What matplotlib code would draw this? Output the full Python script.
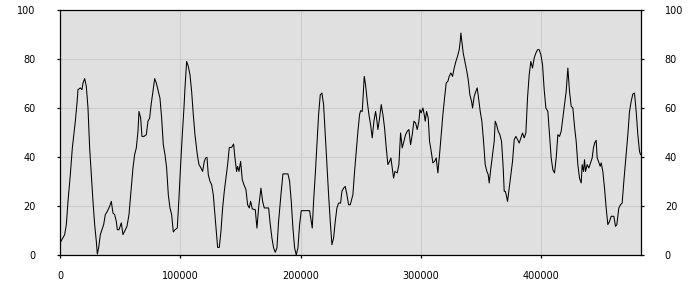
import numpy as np
import matplotlib
matplotlib.use("Agg")
import matplotlib.pyplot as plt

# values
x_vals = [0, 3880, 5260, 6650, 8580, 10250, 11630, 12740, 14130, 14960,
          16890, 18280, 19110, 20500, 21880, 23270, 24650, 26040, 27420, 28810,
          30190, 31020, 32130, 33520, 34900, 36290, 37670, 39330, 41280, 42650,
          44040, 45420, 46810, 47640, 49030, 50970, 52350, 53740, 55680, 57340,
          58730, 60660, 62050, 63430, 64820, 65650, 67040, 68140, 69800, 71740,
          73130, 74510, 75900, 77280, 78670, 80050,
          81710, 83100, 84490, 85870, 87260, 88640, 90030, 91410, 92800, 94180,
          95570, 97500, 98890, 100280, 101660, 103040, 103880, 105260, 106650, 108030,
          109420, 110800, 112190, 114120, 115510, 116890, 118560, 119940, 121050, 122160,
          123260, 124650, 126030, 127420, 128810, 130190, 131020, 132410, 133790, 135180,
          136560, 137950, 139330, 140720, 142650, 144310, 145430, 146810, 147640, 148750,
          150140, 151520, 152900, 154570, 155950, 157340, 158450, 159830,
          162320, 163710, 165090, 167030, 168420, 169800, 173410, 174790, 176170, 177560,
          178940, 180330, 181710, 183650, 185310, 189470, 190850, 192240, 193620, 195010,
          196390, 197780, 199160, 200550, 207470, 208860, 209690, 210800, 212180, 213570,
          214960, 216340, 217730, 219110, 220500, 221880, 223270, 224650, 226030, 227420,
          228800, 230190, 231570, 233240, 234340, 235730, 237110, 238500, 239880, 241260,
          243480, 244870, 246250, 247640, 249020, 249850, 251240, 252070, 252900, 254010,
          255400, 256780, 258170, 259550, 260940, 262320, 263150, 264260, 265650, 267030,
          268420, 269800, 271190, 272570, 273960, 275060, 276170, 277280, 278390, 280320,
          281710, 283100, 284480, 285870, 287250, 288640, 290020, 291410, 292800, 294180,
          295570, 296950, 298340, 299170, 300270, 301650, 302760, 303590, 304700, 306080,
          307190, 308570, 309960, 311340, 312730, 314110, 315500, 316890, 318270, 319660,
          321040, 322430,
          323520, 324900, 326290, 327670, 329080, 330460, 331850, 332680, 333230, 334060,
          335170, 336560, 337940, 339330, 340710, 342100, 342930, 344310, 345700, 346800,
          347910, 349300, 350680, 352070, 353450, 354840, 355950, 356780, 358160, 359550,
          360930, 361760, 362870, 364260, 365640, 367030, 368410, 369250, 370080, 370910,
          372020, 373400, 374790, 376170, 377560, 378940, 380330, 381710, 383090, 384480,
          385860, 387250, 388630, 390020, 391400, 392790, 394170, 395560, 396940, 398330,
          399710, 401100, 402480, 403870,
          405530, 406910, 408300, 409680, 411070, 412450, 413840, 415220, 416610, 417990,
          419380, 420760, 422150, 423530, 424920, 426300, 427690, 429070, 430460, 431840,
          433230, 434060, 435170, 436000, 436830, 438220, 439600, 440990, 442370, 443480,
          444590, 445690, 446520, 447630, 449020, 449850, 451230, 452620, 454000, 455390,
          456770, 458160, 460380, 461760, 462870, 464530, 465920, 467300, 468690, 470630,
          472010, 473400, 474780, 476170, 477560, 478940, 480330, 481710, 482540]

y_vals = [4.9, 8.3, 12.4, 21.9, 32.8, 43.7, 49.8, 54.6, 62.0, 67.5,
          68.2, 67.5, 70.2, 72.0, 68.8, 60.0, 43.7, 32.8, 21.9, 12.4,
          5.6, 0.4, 2.9, 8.3, 10.3, 12.4, 16.5, 17.8, 19.9, 21.9,
          17.1, 16.5, 13.7, 10.3, 10.3, 13.1, 8.3, 9.7, 11.7, 16.5,
          24.6, 35.5, 41.0, 43.7, 50.5, 58.6, 55.9, 48.4, 48.4, 49.1,
          54.6, 55.9, 62.0, 66.8, 72.0, 70.2,
          66.8, 64.0, 55.9, 45.0, 41.0, 35.5, 24.6, 19.2, 16.5, 9.4,
          10.3, 11.0, 23.3, 36.9, 49.1, 60.0, 68.2, 79.0, 77.0, 73.6,
          66.8, 57.3, 49.1, 41.0, 36.9, 35.8, 34.1, 38.2, 39.6, 39.9,
          32.8, 30.1, 28.7, 24.6, 16.5, 8.3, 3.1, 3.1, 9.7, 19.2,
          26.0, 31.4, 36.9, 43.9, 43.9, 45.3, 39.6, 34.1, 36.2, 34.1,
          38.2, 30.7, 28.7, 26.7, 20.5, 19.2, 21.9, 18.8,
          18.5, 11.0, 19.2, 27.3, 21.9, 19.2, 19.2, 12.4, 6.9, 2.9,
          1.1, 2.9, 13.7, 24.6, 33.1, 33.1, 30.1, 21.9, 11.0, 2.9,
          0.0, 2.9, 12.4, 18.1, 18.1, 13.7, 11.0, 21.9, 32.8, 45.0,
          57.3, 65.4, 66.1, 61.4, 49.1, 36.9, 24.6, 13.7, 4.2, 6.9,
          13.7, 19.2, 21.2, 21.2, 26.0, 27.3, 28.0, 24.6, 20.5, 20.5,
          24.6, 34.1, 42.3, 50.5, 57.3, 58.9, 58.6, 65.4, 72.9, 69.5,
          62.7, 57.3, 53.2, 47.8, 54.6, 58.6, 55.9, 51.2, 55.9, 61.4,
          57.3, 51.8, 43.7, 36.9, 38.2, 39.6, 35.5, 31.4, 34.1, 33.5,
          36.9, 49.8, 43.7, 46.4, 49.1, 50.5, 51.2, 45.0, 49.1, 54.6,
          53.9, 51.2, 54.6, 59.3, 58.0, 60.0, 57.3, 54.6, 58.6, 55.9,
          46.4, 42.3, 37.6, 38.2, 39.6, 33.5, 41.0, 49.1, 57.3, 64.1,
          70.2, 70.9,
          72.9, 74.3, 72.9, 76.3, 79.0, 81.1, 83.8, 87.2, 90.6, 87.2,
          82.4, 79.0, 75.6, 71.6, 65.4, 62.7, 60.0, 64.8, 66.8, 68.2,
          64.1, 58.6, 54.6, 46.4, 36.9, 34.1, 32.8, 29.4, 35.5, 41.0,
          46.4, 54.6, 53.2, 50.5, 49.1, 46.4, 35.5, 26.0, 26.0, 24.6,
          21.9, 27.3, 32.8, 38.2, 47.1, 48.4, 47.1, 45.7, 47.8, 49.8,
          47.8, 49.8, 64.1, 73.6, 79.0, 76.3, 80.4, 82.4, 83.8, 83.8,
          81.8, 77.7, 67.5, 60.0,
          58.6, 49.1, 39.6, 34.8, 33.5, 39.6, 49.1, 48.4, 50.5, 55.9,
          61.4, 66.8, 76.3, 66.8, 60.7, 60.0, 52.5, 46.4, 36.9, 31.4,
          29.4, 36.9, 34.1, 38.9, 34.1, 36.9, 35.5, 37.6, 39.6, 43.9,
          45.9, 46.8, 39.6, 38.2, 36.2, 37.6, 34.1, 27.3, 19.2, 12.4,
          13.7, 15.8, 15.8, 11.7, 12.4, 19.2, 20.5, 21.2, 30.1, 41.0,
          49.1, 58.6, 62.7, 65.7, 66.1, 58.6, 49.1, 42.3, 41.0]

x_ticks = [0, 100000, 200000, 300000, 400000]
y_ticks = [0, 20, 40, 60, 80, 100]

plt.rcParams['font.family'] = ['DejaVu Sans']
plt.rcParams['font.size'] = 7

fig = plt.figure(figsize=(7, 3), dpi=100)
ax = fig.add_axes([60 / 700, 45 / 300, 580.5 / 700, 245 / 300])
ax.set_facecolor('#e0e0e0')

ax.plot(x_vals, y_vals, color='black', lw=0.75)

ax.set_xlim(0, x_vals[-1])
ax.set_ylim(0, 100)
ax.set_xticks(x_ticks)
ax.set_xticklabels([str(t) for t in x_ticks])
ax.set_yticks(y_ticks)
ax.grid(True, color='#cccccc', lw=0.75)
ax.set_axisbelow(True)

for s in ax.spines.values():
    s.set_color('black')
    s.set_linewidth(0.9)

ax.tick_params(axis='both', direction='out', length=2.5, width=0.9, colors='black')
ax.tick_params(axis='y', left=True, right=True, labelleft=True, labelright=True, pad=15)
ax.tick_params(axis='x', pad=9)

fig.savefig('out.png', dpi=100)
